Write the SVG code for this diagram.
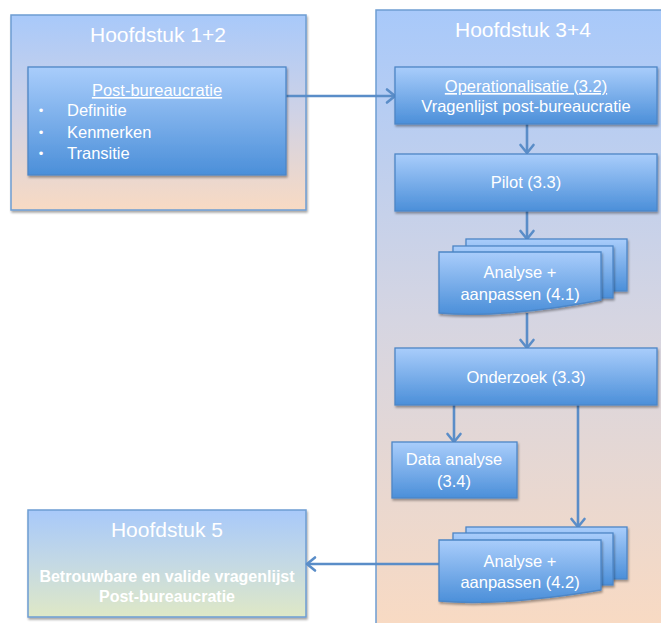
<svg xmlns="http://www.w3.org/2000/svg" width="661" height="623" viewBox="0 0 661 623">
  <defs>
    <!-- chapter panels: light blue fading to peach -->
    <linearGradient id="gChapter" x1="0" y1="0" x2="0" y2="1">
      <stop offset="0" stop-color="#a8c9fa"/>
      <stop offset="0.5" stop-color="#cfd2e6"/>
      <stop offset="1" stop-color="#f8dac3"/>
    </linearGradient>
    <linearGradient id="gChapterTall" gradientUnits="userSpaceOnUse" x1="0" y1="10" x2="0" y2="623">
      <stop offset="0" stop-color="#a8c9fa"/>
      <stop offset="0.5" stop-color="#d5d5e2"/>
      <stop offset="1" stop-color="#f8dac3"/>
    </linearGradient>
    <!-- final chapter: light blue fading to pale green -->
    <linearGradient id="gResult" x1="0" y1="0" x2="0" y2="1">
      <stop offset="0" stop-color="#a8c9fa"/>
      <stop offset="0.5" stop-color="#c4d9e4"/>
      <stop offset="1" stop-color="#dfe8c6"/>
    </linearGradient>
    <!-- process steps: light to mid blue -->
    <linearGradient id="gStep" x1="0" y1="0" x2="0" y2="1">
      <stop offset="0" stop-color="#a9cdfb"/>
      <stop offset="1" stop-color="#4b8fd9"/>
    </linearGradient>
    <filter id="shadow" x="-10%" y="-10%" width="125%" height="135%">
      <feDropShadow dx="1" dy="2" stdDeviation="1.3" flood-color="#000" flood-opacity="0.35"/>
    </filter>
    <marker id="arrow" markerUnits="userSpaceOnUse" markerWidth="14" markerHeight="18" viewBox="0 0 14 18" refX="12" refY="9" orient="auto">
      <path d="M4,2.5 L12,9 L4,15.5" fill="none" stroke="#5a8dc8" stroke-width="2.6" stroke-linecap="round" stroke-linejoin="round"/>
    </marker>
  </defs>
  <style>
    .chapter { stroke: #6d9dd2; stroke-width: 1.5; }
    .step { fill: url(#gStep); stroke: #4d86c6; stroke-width: 1.3; filter: url(#shadow); }
    .title { font-family: "Liberation Sans", Arial, sans-serif; font-size: 21px; fill: #ffffff; text-anchor: middle; }
    .label { font-family: "Liberation Sans", Arial, sans-serif; font-size: 16.5px; fill: #ffffff; text-anchor: middle; }
    .left { text-anchor: start; }
    .bullet { font-family: "Liberation Sans", Arial, sans-serif; font-size: 13px; fill: #ffffff; text-anchor: middle; }
    .bold { font-family: "Liberation Sans", Arial, sans-serif; font-size: 16px; font-weight: bold; fill: #ffffff; text-anchor: middle; }
    .link { fill: none; stroke: #5a8dc8; stroke-width: 2.6; marker-end: url(#arrow); }
  </style>

  <!-- Chapter 1+2 -->
  <g id="hoofdstuk12">
    <rect class="chapter" x="11" y="15" width="295" height="195" fill="url(#gChapter)" filter="url(#shadow)"/>
    <text class="title" x="158" y="42">Hoofdstuk 1+2</text>
  </g>

  <!-- Chapter 3+4 -->
  <g id="hoofdstuk34">
    <rect class="chapter" x="376" y="10" width="300" height="640" fill="url(#gChapterTall)"/>
    <text class="title" x="523" y="37">Hoofdstuk 3+4</text>
  </g>

  <!-- Chapter 5 -->
  <g id="hoofdstuk5">
    <rect class="chapter" x="28" y="510" width="278" height="107" fill="url(#gResult)" filter="url(#shadow)"/>
    <text class="title" x="167" y="537">Hoofdstuk 5</text>
    <text class="bold" x="167" y="582">Betrouwbare en valide vragenlijst</text>
    <text class="bold" x="167" y="602">Post-bureaucratie</text>
  </g>

  <!-- Connectors -->
  <g id="connectors">
    <path class="link" d="M286,96 H395"/>
    <path class="link" d="M527,124 V153"/>
    <path class="link" d="M527,211 V239"/>
    <path class="link" d="M527,313 V348"/>
    <path class="link" d="M454,405 V442"/>
    <path class="link" d="M578,405 V527"/>
    <path class="link" d="M439,564 H307"/>
  </g>

  <!-- Post-bureaucratie -->
  <g id="postbureaucratie">
    <rect class="step" x="28" y="67" width="258" height="108"/>
    <text class="label" x="157" y="96" text-decoration="underline">Post-bureaucratie</text>
    <text class="bullet" x="41" y="115">•</text>
    <text class="label left" x="67" y="116">Definitie</text>
    <text class="bullet" x="41" y="137">•</text>
    <text class="label left" x="67" y="138">Kenmerken</text>
    <text class="bullet" x="41" y="158">•</text>
    <text class="label left" x="67" y="159">Transitie</text>
  </g>

  <!-- Operationalisatie -->
  <g id="operationalisatie">
    <rect class="step" x="395" y="67" width="262" height="57"/>
    <text class="label" x="526" y="92" text-decoration="underline">Operationalisatie (3.2)</text>
    <text class="label" x="526" y="112">Vragenlijst post-bureaucratie</text>
  </g>

  <!-- Pilot -->
  <g id="pilot">
    <rect class="step" x="395" y="154" width="262" height="57"/>
    <text class="label" x="526" y="188">Pilot (3.3)</text>
  </g>

  <!-- Analyse + aanpassen (4.1) -->
  <g id="analyse41">
    <rect class="step" x="466" y="239" width="161" height="52"/>
    <rect class="step" x="453" y="246" width="160" height="52"/>
    <path class="step" d="M439,252 H601 V300 C540,312 480,317 439,313 Z"/>
    <text class="label" x="520" y="278">Analyse +</text>
    <text class="label" x="520" y="300">aanpassen (4.1)</text>
  </g>

  <!-- Onderzoek -->
  <g id="onderzoek">
    <rect class="step" x="395" y="348" width="262" height="57"/>
    <text class="label" x="526" y="383">Onderzoek (3.3)</text>
  </g>

  <!-- Data analyse -->
  <g id="dataanalyse">
    <rect class="step" x="392" y="442" width="125" height="56"/>
    <text class="label" x="454" y="465">Data analyse</text>
    <text class="label" x="454" y="487">(3.4)</text>
  </g>

  <!-- Analyse + aanpassen (4.2) -->
  <g id="analyse42">
    <rect class="step" x="466" y="527" width="161" height="52"/>
    <rect class="step" x="453" y="533" width="160" height="52"/>
    <path class="step" d="M439,540 H601 V590 C540,600 480,605 439,601 Z"/>
    <text class="label" x="520" y="567">Analyse +</text>
    <text class="label" x="520" y="588">aanpassen (4.2)</text>
  </g>
</svg>
